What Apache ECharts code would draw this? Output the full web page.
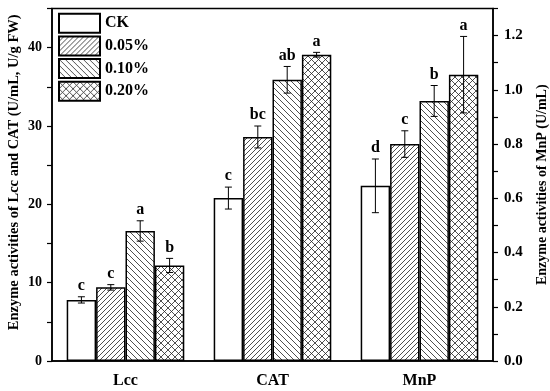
<!DOCTYPE html>
<html><head><meta charset="utf-8">
<script src="https://cdn.jsdelivr.net/npm/echarts@6/dist/echarts.min.js"></script>
<style>html,body{margin:0;padding:0;background:#fff}#c{width:550px;height:391px}</style>
</head><body><div id="c"></div>
<script>
const categories = ['Lcc', 'CAT', 'MnP'];
const treatments = ['CK', '0.05%', '0.10%', '0.20%'];
// Left axis (Lcc, CAT), one value per treatment
const lccValues = [7.8, 9.4, 16.6, 12.2];
const lccErrors = [0.4, 0.35, 1.3, 0.9];
const lccLetters = ['c', 'c', 'a', 'b'];
const catValues = [20.8, 28.6, 35.9, 39.1];
const catErrors = [1.4, 1.4, 1.7, 0.3];
const catLetters = ['c', 'bc', 'ab', 'a'];
// Right axis (MnP)
const mnpValues = [0.646, 0.80, 0.959, 1.056];
const mnpErrors = [0.099, 0.049, 0.057, 0.141];
const mnpLetters = ['d', 'c', 'b', 'a'];

const FONT = '"Liberation Serif", "Times New Roman", serif';
const GAP = 0.2;

function hatch(p, dirs, lw) {
  const c = document.createElement('canvas');
  c.width = p; c.height = p;
  const g = c.getContext('2d');
  g.fillStyle = '#fff'; g.fillRect(0, 0, p, p);
  g.strokeStyle = '#222'; g.lineWidth = lw;
  dirs.forEach(function (d) {
    for (let k = -1; k <= 1; k++) {
      g.beginPath();
      if (d === '/') { g.moveTo(k * p, p); g.lineTo(k * p + p, 0); }
      else { g.moveTo(k * p, 0); g.lineTo(k * p + p, p); }
      g.stroke();
    }
  });
  return { image: c, repeat: 'repeat' };
}
const fills = ['#ffffff', hatch(5, ['/'], 0.8), hatch(6, ['\\'], 0.8), hatch(7, ['/', '\\'], 0.8)];

function errRender(letters) {
  return function (params, api) {
    const cat = api.value(0), v = api.value(1), e = api.value(2), k = api.value(3);
    const band = api.size([1, 0])[0];
    const inner = band * (1 - GAP);
    const bw = inner / 4;
    const cx = api.coord([cat, v])[0] - inner / 2 + bw * (k + 0.5);
    const yTop = api.coord([cat, v + e])[1];
    const yBot = api.coord([cat, v - e])[1];
    const cap = 3.5;
    const ls = { stroke: '#000', lineWidth: 1 };
    return {
      type: 'group', children: [
        { type: 'line', shape: { x1: cx, y1: yTop, x2: cx, y2: yBot }, style: ls },
        { type: 'line', shape: { x1: cx - cap, y1: yTop, x2: cx + cap, y2: yTop }, style: ls },
        { type: 'line', shape: { x1: cx - cap, y1: yBot, x2: cx + cap, y2: yBot }, style: ls },
        { type: 'text', x: cx, y: yTop - 11, style: { text: letters[params.dataIndex], align: 'center', verticalAlign: 'middle', font: 'bold 16px ' + FONT, fill: '#000' } }
      ]
    };
  };
}

const leftErrData = [], leftLetters = [];
treatments.forEach(function (t, i) {
  leftErrData.push([0, lccValues[i], lccErrors[i], i]); leftLetters.push(lccLetters[i]);
  leftErrData.push([1, catValues[i], catErrors[i], i]); leftLetters.push(catLetters[i]);
});
const rightErrData = treatments.map(function (t, i) { return [2, mnpValues[i], mnpErrors[i], i]; });

const series = [];
treatments.forEach(function (t, i) {
  series.push({
    type: 'bar', name: t, xAxisIndex: 0, yAxisIndex: 0, barGap: '0%', barCategoryGap: '20%',
    data: [lccValues[i], catValues[i], '-'],
    itemStyle: { color: fills[i], borderColor: '#000', borderWidth: 1.5 }
  });
});
treatments.forEach(function (t, i) {
  series.push({
    type: 'bar', name: t, xAxisIndex: 1, yAxisIndex: 1, barGap: '0%', barCategoryGap: '20%',
    data: ['-', '-', mnpValues[i]],
    itemStyle: { color: fills[i], borderColor: '#000', borderWidth: 1.5 }
  });
});
series.push({ type: 'custom', name: 'errL', xAxisIndex: 0, yAxisIndex: 0, renderItem: errRender(leftLetters), data: leftErrData, z: 5 });
series.push({ type: 'custom', name: 'errR', xAxisIndex: 1, yAxisIndex: 1, renderItem: errRender(mnpLetters), data: rightErrData, z: 5 });

const option = {
  animation: false,
  backgroundColor: '#fff',
  grid: { left: 52, right: 57, top: 8.5, bottom: 30, show: true, borderColor: '#000', borderWidth: 1.5,
    containLabel: false, outerBoundsMode: 'none' },
  legend: {
    data: treatments, orient: 'vertical', left: 58, top: 12.7, padding: 0,
    itemWidth: 41, itemHeight: 19, itemGap: 1.7,
    icon: 'rect', selectedMode: false,
    itemStyle: { borderColor: '#000', borderWidth: 2 },
    textStyle: { fontFamily: FONT, fontWeight: 'bold', fontSize: 16, lineHeight: 19, color: '#000' }
  },
  xAxis: [
    {
      type: 'category', data: categories, position: 'bottom',
      axisLine: { lineStyle: { color: '#000', width: 1.5 } },
      axisTick: { alignWithLabel: true, length: 5, lineStyle: { color: '#000', width: 1.5 } },
      axisLabel: { fontFamily: FONT, fontWeight: 'bold', fontSize: 16, color: '#000', margin: 12 }
    },
    { type: 'category', data: categories, position: 'bottom', show: false }
  ],
  yAxis: [
    {
      type: 'value', position: 'left', min: 0, max: 45, interval: 5,
      name: 'Enzyme activities of Lcc and CAT (U/mL, U/g FW)', nameLocation: 'middle', nameGap: 30, nameRotate: 90,
      nameMoveOverlap: false,
      nameTextStyle: { fontFamily: FONT, fontWeight: 'bold', fontSize: 14.5, color: '#000', padding: [0, 0, 0, 25] },
      axisLine: { show: true, lineStyle: { color: '#000', width: 1.5 } },
      axisTick: { show: true, length: 5, lineStyle: { color: '#000', width: 1.2 } },
      axisLabel: { margin: 10, fontFamily: FONT, fontWeight: 'bold', fontSize: 14, color: '#000',
        formatter: function (v) { return v % 10 === 0 ? String(v) : ''; } },
      splitLine: { show: false }
    },
    {
      type: 'value', position: 'right', min: 0, max: 1.3, interval: 0.1,
      name: 'Enzyme activities of MnP (U/mL)', nameLocation: 'middle', nameGap: 42, nameRotate: 90,
      nameMoveOverlap: false,
      nameTextStyle: { fontFamily: FONT, fontWeight: 'bold', fontSize: 14, color: '#000' },
      axisLine: { show: true, lineStyle: { color: '#000', width: 1.5 } },
      axisTick: { show: true, length: 5, lineStyle: { color: '#000', width: 1.2 } },
      axisLabel: { margin: 11, fontFamily: FONT, fontWeight: 'bold', fontSize: 15, color: '#000',
        formatter: function (v) { return Math.round(v * 10) % 2 === 0 ? v.toFixed(1) : ''; } },
      splitLine: { show: false }
    }
  ],
  series: series
};
const chart = echarts.init(document.getElementById('c'), null, { renderer: 'canvas' });
chart.setOption(option);
</script>
</body></html>
